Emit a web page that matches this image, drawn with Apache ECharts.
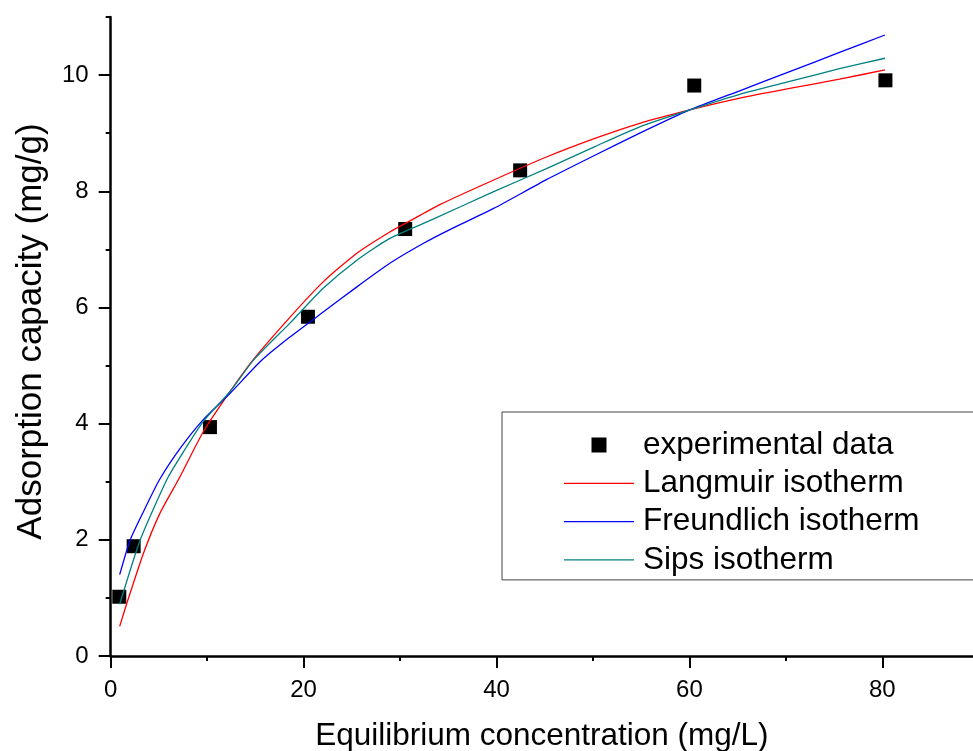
<!DOCTYPE html>
<html lang="en">
<head>
<meta charset="UTF-8" />
<title>Adsorption isotherms</title>
<script src="https://cdn.jsdelivr.net/npm/echarts@6/dist/echarts.min.js"></script>
<style>
html,body{margin:0;padding:0;background:#fff}
#main{width:973px;height:751px}
</style>
</head>
<body>
<div id="main"></div>
<script type="text/javascript">
// measured points
var expData = [[0.89,1.02],[2.38,1.89],[10.29,3.94],[20.45,5.84],[30.53,7.35],[42.45,8.36],[60.5,9.82],[80.32,9.91]];
// fitted curves
var langmuir = [[0.93,0.51],[1.66,0.90],[3.38,1.76],[5.11,2.46],[7.1,3.06],[9.6,3.86],[12.36,4.55],[14.72,5.09],[18.58,5.83],[22.03,6.44],[25.49,6.93],[28.94,7.30],[31.36,7.52],[34.12,7.77],[39.65,8.19],[45.18,8.59],[50.2,8.91],[54.85,9.17],[60.03,9.40],[65.7,9.62],[70.39,9.77],[75.56,9.93],[80.27,10.09]];
var freundlich = [[0.93,1.40],[2.0,1.99],[3.38,2.48],[5.04,3.03],[7.18,3.57],[9.6,4.07],[12.36,4.52],[15.65,5.09],[18.58,5.49],[22.03,5.92],[25.49,6.35],[28.94,6.76],[32.39,7.10],[35.16,7.34],[39.65,7.70],[45.18,8.20],[50.2,8.62],[54.85,9.00],[60.03,9.40],[65.21,9.73],[70.39,10.06],[75.56,10.39],[80.27,10.69]];
var sips = [[0.93,0.89],[3.04,1.99],[5.8,3.03],[7.18,3.42],[9.6,4.04],[12.36,4.55],[14.78,5.09],[18.58,5.73],[22.03,6.33],[25.49,6.81],[28.94,7.19],[33.43,7.52],[39.65,7.99],[45.18,8.39],[50.2,8.77],[54.85,9.11],[60.03,9.40],[65.21,9.67],[70.39,9.89],[75.56,10.11],[80.27,10.29]];

var xMajor = [0,20,40,60,80];
var xMinor = [10,30,50,70];
var yMajor = [0,2,4,6,8,10];
var yMinor = [1,3,5,7,9,11];

var FONT = '"Liberation Sans", Arial, sans-serif';
var LINE_ICON = 'path://M0,0L70,0L70,1.3L0,1.3Z';

var myChart = echarts.init(document.getElementById('main'));
myChart.setOption({
	animation:false,
	backgroundColor:'#fff',
	grid:{left:110.7,top:17,right:0,bottom:95,containLabel:false,outerBoundsMode:'none'},
	legend:{
		orient:'vertical',
		left:502,
		top:412,
		padding:[17,200,4,62],
		itemWidth:70,
		itemHeight:15,
		itemGap:6.3,
		symbolKeepAspect:true,
		borderColor:'#444',
		borderWidth:1,
		textStyle:{fontFamily:FONT,fontSize:31.5,lineHeight:30,color:'#000',padding:[0,0,0,4]},
		data:[
			{name:'experimental data',icon:'path://M0,0L10,0L10,10L0,10Z'},
			{name:'Langmuir isotherm',icon:LINE_ICON,itemStyle:{color:'#ff0000'}},
			{name:'Freundlich isotherm',icon:LINE_ICON,itemStyle:{color:'#0000ff'}},
			{name:'Sips isotherm',icon:LINE_ICON,itemStyle:{color:'#008080'}}
		]
	},
	xAxis:[{
		type:'value',min:0,max:89.4,interval:20,
		name:'Equilibrium concentration (mg/L)',nameLocation:'middle',nameGap:64,
		nameTextStyle:{fontFamily:FONT,fontSize:31.5,color:'#000'},
		axisLine:{show:true,onZero:false,lineStyle:{color:'#000',width:2.5}},
		axisTick:{show:true,inside:false,length:12,customValues:xMajor,lineStyle:{color:'#000',width:2}},
		axisLabel:{show:true,margin:22,customValues:xMajor,fontFamily:FONT,fontSize:24,color:'#000'},
		splitLine:{show:false}
	},{
		type:'value',min:0,max:89.4,position:'bottom',
		axisLine:{show:false},
		axisTick:{show:true,length:5,customValues:xMinor,lineStyle:{color:'#000',width:2}},
		axisLabel:{show:false},
		splitLine:{show:false}
	}],
	yAxis:[{
		type:'value',min:0,max:11,interval:2,
		name:'Adsorption capacity (mg/g)',nameLocation:'middle',nameGap:62,
		nameTextStyle:{fontFamily:FONT,fontSize:35,color:'#000',padding:[0,0,0,10]},
		axisLine:{show:true,onZero:false,lineStyle:{color:'#000',width:2.5}},
		axisTick:{show:true,inside:false,length:12,customValues:yMajor,lineStyle:{color:'#000',width:2}},
		axisLabel:{show:true,margin:22,customValues:yMajor,fontFamily:FONT,fontSize:24,color:'#000'},
		splitLine:{show:false}
	},{
		type:'value',min:0,max:11,position:'left',
		axisLine:{show:false},
		axisTick:{show:true,length:5,customValues:yMinor,lineStyle:{color:'#000',width:2}},
		axisLabel:{show:false},
		splitLine:{show:false}
	}],
	series:[
		{name:'experimental data',type:'scatter',data:expData,symbol:'rect',symbolSize:14,itemStyle:{color:'#000',opacity:1},z:1},
		{name:'Langmuir isotherm',type:'line',data:langmuir,symbol:'none',smooth:0.2,lineStyle:{color:'#ff0000',width:1.3},itemStyle:{color:'#ff0000'},z:3},
		{name:'Freundlich isotherm',type:'line',data:freundlich,symbol:'none',smooth:0.2,lineStyle:{color:'#0000ff',width:1.3},itemStyle:{color:'#0000ff'},z:3},
		{name:'Sips isotherm',type:'line',data:sips,symbol:'none',smooth:0.2,lineStyle:{color:'#008080',width:1.3},itemStyle:{color:'#008080'},z:3}
	]
});
</script>
</body>
</html>
